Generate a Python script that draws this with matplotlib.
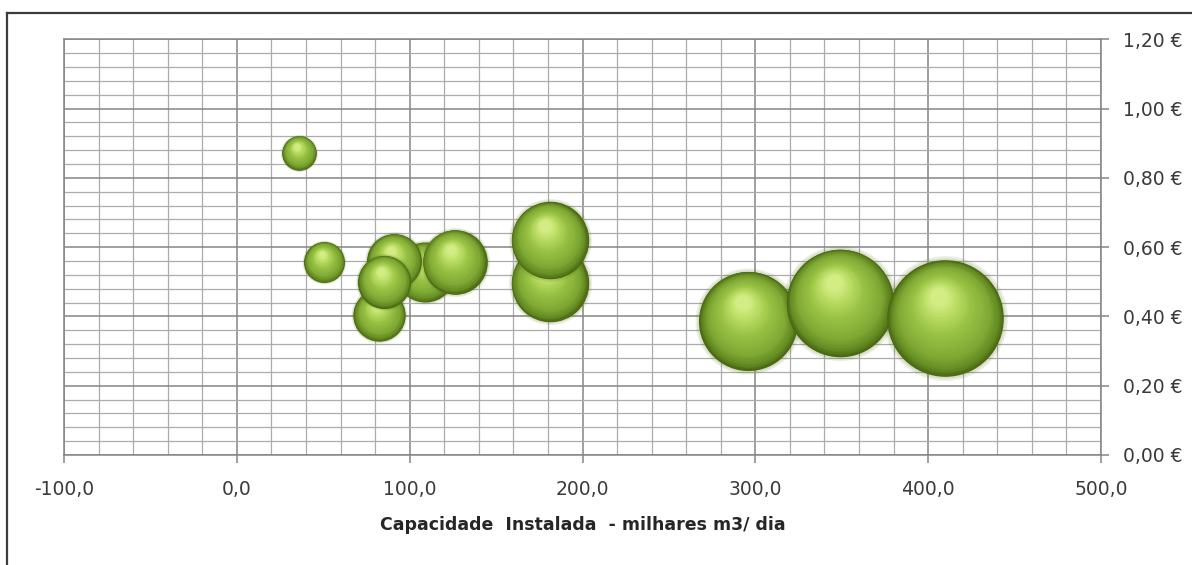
import numpy as np
import matplotlib
matplotlib.use("Agg")
import matplotlib.pyplot as plt
from matplotlib.ticker import MultipleLocator, FuncFormatter
from matplotlib.transforms import offset_copy
from matplotlib.colors import LinearSegmentedColormap
from matplotlib.lines import Line2D

# Installed capacity (thousand m3/day) and unit cost (EUR/m3); listed back to front
capacidade = [108.6, 82.5, 91.0, 85.4, 126.0, 181.0, 181.0, 296.0, 349.0, 410.0, 36.0, 50.5]
custo = [0.528, 0.404, 0.560, 0.500, 0.557, 0.496, 0.620, 0.387, 0.440, 0.395, 0.872, 0.557]
# Bubble size follows the installed capacity
tamanho = capacidade

x_ticks = [-100, 0, 100, 200, 300, 400, 500]
y_ticks = [0.0, 0.2, 0.4, 0.6, 0.8, 1.0, 1.2]
x_title = "Capacidade  Instalada  - milhares m3/ dia"

plt.rcParams["font.family"] = ["DejaVu Sans"]

fig = plt.figure(figsize=(11.92, 5.65), dpi=100)
ax = fig.add_axes([64 / 1192, 1 - 455 / 565, (1101 - 64) / 1192, (455 - 39.3) / 565])

ax.set_xlim(x_ticks[0], x_ticks[-1])
ax.set_ylim(y_ticks[0], y_ticks[-1])
ax.xaxis.set_major_locator(MultipleLocator(100))
ax.xaxis.set_minor_locator(MultipleLocator(20))
ax.yaxis.set_major_locator(MultipleLocator(0.2))
ax.yaxis.set_minor_locator(MultipleLocator(0.04))
ax.xaxis.set_major_formatter(FuncFormatter(lambda v, p: f"{v:.1f}".replace(".", ",")))
ax.yaxis.set_major_formatter(FuncFormatter(lambda v, p: f"{v:.2f}".replace(".", ",") + " €"))
ax.yaxis.tick_right()

ax.grid(which="major", color="#858585", lw=1.1, zorder=0)
ax.grid(which="minor", color="#acacac", lw=0.9, zorder=0)
ax.set_axisbelow(True)
for s in ax.spines.values():
    s.set_color("#858585")
    s.set_linewidth(1.1)
ax.tick_params(which="major", length=6, width=1.1, color="#858585",
               labelsize=13.5, labelcolor="#3a3a3a")
ax.tick_params(axis="x", which="major", pad=12)
ax.tick_params(axis="y", which="major", pad=10)
ax.tick_params(which="minor", length=0)
ax.set_xlabel(x_title, fontsize=12.5, fontweight="bold", color="#262626", labelpad=12)

# Shaded sphere colours: rim -> body -> specular highlight
sphere = LinearSegmentedColormap.from_list(
    "sphere",
    [(0.0, "#4b6813"), (0.08, "#628a21"), (0.25, "#80a935"),
     (0.55, "#97c143"), (0.8, "#b8db61"), (1.0, "#d3ed84")])

scale = 17.2          # points^2 of marker area per unit of bubble size
n_layers = 44
hx, hy = -0.12, 0.38  # highlight offset as a fraction of the radius

for i, (cx, cy, sz) in enumerate(zip(capacidade, custo, tamanho)):
    area = scale * sz
    radius_pt = np.sqrt(area) / 2
    z = 10 + i * 2
    # soft outer edge
    for g in (1.07, 1.035):
        ax.scatter([cx], [cy], s=area * g ** 2, color="#587a1a", alpha=0.12,
                   linewidths=0, zorder=z)
    for k in range(n_layers):
        t = k / (n_layers - 1)
        f = 1 - 0.86 * t
        tr = offset_copy(ax.transData, fig=fig, x=hx * radius_pt * t,
                         y=hy * radius_pt * t, units="points")
        ax.scatter([cx], [cy], s=area * f ** 2, color=sphere(t),
                   linewidths=0, transform=tr, zorder=z + 1)

# outer chart frame
fig.add_artist(Line2D([7 / 1192, 7 / 1192], [0, 1 - 13 / 565], color="#3c3c3c", lw=1.6))
fig.add_artist(Line2D([7 / 1192, 1], [1 - 13 / 565, 1 - 13 / 565], color="#3c3c3c", lw=1.6))

fig.savefig("out.png", dpi=100)
